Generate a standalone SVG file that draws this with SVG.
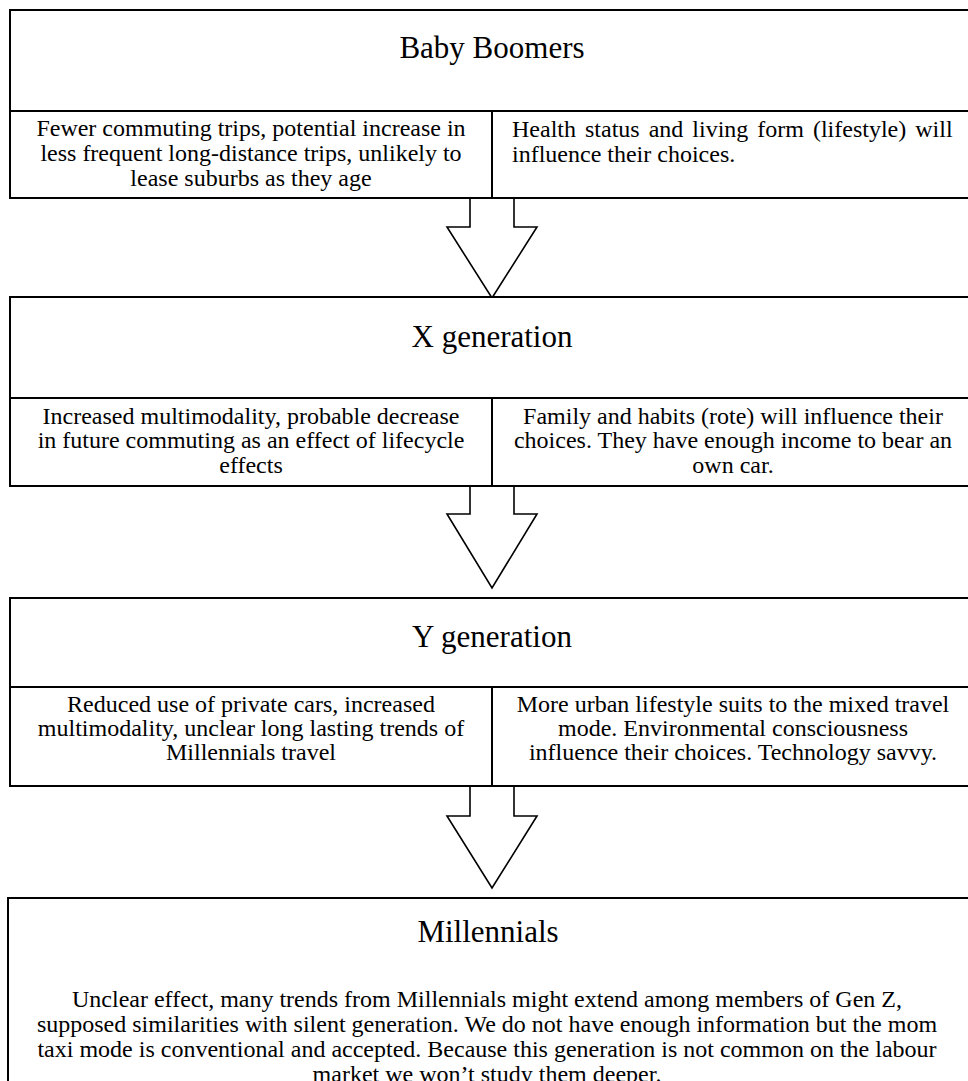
<svg xmlns="http://www.w3.org/2000/svg" width="968" height="1081" viewBox="0 0 968 1081">
<style>
.box{fill:#fff;stroke:#000;stroke-width:2}
.ln{stroke:#000;stroke-width:2;fill:none}
.arr{fill:#fff;stroke:#000;stroke-width:1.6;stroke-linejoin:miter}
text{font-family:'Liberation Serif','Times New Roman',Times,'DejaVu Serif',serif;fill:#000}
.t{font-size:31px;text-anchor:middle}
.b{font-size:24px;text-anchor:middle}
.bl{font-size:24px}
</style>
<rect width="968" height="1081" fill="#fff"/>
<g id="connectors">
<path class="arr" d="M470,198 V227 H447 L492,298 L537,227 H514 V198"/>
<path class="arr" d="M470,486 V514 H447 L492,588 L537,514 H514 V486"/>
<path class="arr" d="M470,786 V816 H447 L492,888 L537,816 H514 V786"/>
</g>
<g id="baby-boomers">
<rect class="box" x="10" y="10" width="964" height="188"/>
<line class="ln" x1="10" y1="111" x2="974" y2="111"/>
<line class="ln" x1="492" y1="111" x2="492" y2="198"/>
<text class="t" x="492" y="58">Baby Boomers</text>
<text class="b" x="251" y="136">Fewer commuting trips, potential increase in</text>
<text class="b" x="251" y="161">less frequent long-distance trips, unlikely to</text>
<text class="b" x="251" y="186">lease suburbs as they age</text>
<text class="bl" x="512" y="137" word-spacing="3">Health status and living form (lifestyle) will</text>
<text class="bl" x="512" y="162">influence their choices.</text>
</g>
<g id="x-generation">
<rect class="box" x="10" y="297" width="964" height="189"/>
<line class="ln" x1="10" y1="398" x2="974" y2="398"/>
<line class="ln" x1="492" y1="398" x2="492" y2="486"/>
<text class="t" x="492" y="347">X generation</text>
<text class="b" x="251" y="424">Increased multimodality, probable decrease</text>
<text class="b" x="251" y="448">in future commuting as an effect of lifecycle</text>
<text class="b" x="251" y="473">effects</text>
<text class="b" x="733" y="424">Family and habits (rote) will influence their</text>
<text class="b" x="733" y="448">choices. They have enough income to bear an</text>
<text class="b" x="733" y="473">own car.</text>
</g>
<g id="y-generation">
<rect class="box" x="10" y="598" width="964" height="188"/>
<line class="ln" x1="10" y1="687" x2="974" y2="687"/>
<line class="ln" x1="492" y1="687" x2="492" y2="786"/>
<text class="t" x="492" y="647">Y generation</text>
<text class="b" x="251" y="712">Reduced use of private cars, increased</text>
<text class="b" x="251" y="736">multimodality, unclear long lasting trends of</text>
<text class="b" x="251" y="760">Millennials travel</text>
<text class="b" x="733" y="712">More urban lifestyle suits to the mixed travel</text>
<text class="b" x="733" y="736">mode. Environmental consciousness</text>
<text class="b" x="733" y="760">influence their choices. Technology savvy.</text>
</g>
<g id="millennials">
<rect class="box" x="8" y="898" width="962" height="200"/>
<text class="t" x="488" y="942">Millennials</text>
<text class="b" x="487" y="1007">Unclear effect, many trends from Millennials might extend among members of Gen Z,</text>
<text class="b" x="487" y="1032">supposed similarities with silent generation. We do not have enough information but the mom</text>
<text class="b" x="487" y="1057">taxi mode is conventional and accepted. Because this generation is not common on the labour</text>
<text class="b" x="487" y="1082">market we won’t study them deeper.</text>
</g>
</svg>
